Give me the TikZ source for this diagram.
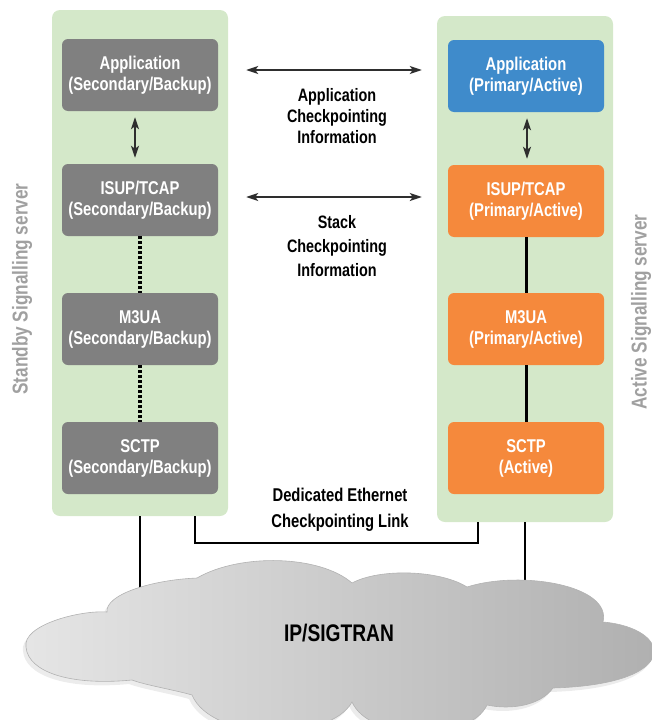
\documentclass[tikz,border=0pt]{standalone}
\usepackage{fontspec}
\setmainfont{Liberation Sans}[FakeStretch=0.8]
\usetikzlibrary{shadows,arrows.meta}
\definecolor{panelgreen}{HTML}{D4E8C9}
\definecolor{stackgray}{HTML}{808080}
\definecolor{appblue}{HTML}{3F8BCB}
\definecolor{stackorange}{HTML}{F5893C}
\definecolor{labelgray}{HTML}{A0A0A0}
\definecolor{arrowdark}{HTML}{2E2E2E}

\begin{document}
\begin{tikzpicture}[x=1pt,y=-1pt,
  panel/.style={fill=panelgreen, rounded corners=8pt, minimum width=176pt, minimum height=506pt, inner sep=0pt},
  layer/.style={rounded corners=6pt, minimum width=156pt, minimum height=72pt, text=white, align=center, inner sep=0pt, font=\bfseries\fontsize{18.5}{21}\selectfont},
  note/.style={align=center, font=\bfseries\fontsize{18}{21}\selectfont},
  side/.style={rotate=90, text=labelgray, font=\bfseries\fontsize{21.5}{24}\selectfont},
  sync/.style={{Stealth[length=12pt,width=8pt,inset=3pt]}-{Stealth[length=12pt,width=8pt,inset=3pt]}, line width=2pt, draw=arrowdark},
  wire/.style={line width=2.2pt}]
  \useasboundingbox (0,0) rectangle (652,720);
  \clip (0,0) rectangle (652,720);

  % server panels
  \node[panel] (standby) at (140,263) {};
  \node[panel] (active) at (525,269) {};
  \node[side] (standbylbl) at (22,289) {Standby Signalling server};
  \node[side] (activelbl) at (641,312) {Active Signalling server};

  % links to the network
  \coordinate (netc) at (339,633);
  \draw[wire] (standby.south) -- (standby.south |- netc);
  \draw[wire] (active.south) -- (active.south |- netc);
  \draw[line width=1.8pt] ([xshift=-33pt]standby.south east) -- ++(0,27)
    -| ([xshift=-135pt]active.south east);

  % cloud
  \path[draw=gray!60, line width=0.6pt, left color=gray!20, right color=gray!64,
    drop shadow={shadow xshift=-3pt, shadow yshift=-4pt, opacity=0.15}]
    (26,647) .. controls (22,625) and (80,610) .. (107,612)
    .. controls (105,595) and (150,580) .. (197,578)
    .. controls (240,553) and (320,555) .. (352,583)
    .. controls (380,568) and (440,570) .. (467,587)
    .. controls (520,570) and (612,585) .. (603,622)
    .. controls (672,628) and (685,684) .. (553,688)
    .. controls (540,706) and (510,710) .. (487,705)
    .. controls (470,742) and (370,742) .. (352,702)
    .. controls (330,742) and (212,742) .. (192,695)
    .. controls (175,690) and (145,685) .. (132,680)
    .. controls (70,686) and (28,672) .. (26,647) -- cycle;
  \node[font=\bfseries\fontsize{24}{28}\selectfont] (net) at (netc) {IP/SIGTRAN};

  % standby stack
  \node[layer, fill=stackgray] (sapp) at (140,75) {Application\\(Secondary/Backup)};
  \node[layer, fill=stackgray] (sisup) at (140,200) {ISUP/TCAP\\(Secondary/Backup)};
  \node[layer, fill=stackgray] (sm3ua) at (140,329) {M3UA\\(Secondary/Backup)};
  \node[layer, fill=stackgray] (ssctp) at (140,458) {SCTP\\(Secondary/Backup)};
  \draw[sync] ([xshift=-5pt,yshift=-6pt]sapp.south) -- ([xshift=-5pt,yshift=6pt]sisup.north);
  \draw[wire, line width=3.5pt, dash pattern=on 3pt off 2pt] (sisup) -- (sm3ua);
  \draw[wire, line width=3.5pt, dash pattern=on 3pt off 2pt] (sm3ua) -- (ssctp);

  % active stack
  \node[layer, fill=appblue] (aapp) at (526,76) {Application\\(Primary/Active)};
  \node[layer, fill=stackorange] (aisup) at (526,201) {ISUP/TCAP\\(Primary/Active)};
  \node[layer, fill=stackorange] (am3ua) at (526,329) {M3UA\\(Primary/Active)};
  \node[layer, fill=stackorange] (asctp) at (526,458) {SCTP\\(Active)};
  \draw[sync] ([xshift=1pt,yshift=-6pt]aapp.south) -- ([xshift=1pt,yshift=6pt]aisup.north);
  \draw[wire, line width=3pt] (aisup) -- (am3ua);
  \draw[wire, line width=3pt] (am3ua) -- (asctp);

  % checkpointing
  \draw[sync] ([xshift=28pt,yshift=5pt]sapp.east) -- ([xshift=-26pt,yshift=6pt]aapp.west);
  \draw[sync] ([xshift=28pt,yshift=3pt]sisup.east) -- ([xshift=-26pt,yshift=4pt]aisup.west);
  \node[note] (appinfo) at (337,116) {Application\\Checkpointing\\Information};
  \node[note, font=\bfseries\fontsize{18}{24}\selectfont] (stackinfo) at (337,246) {Stack\\Checkpointing\\Information};
  \node[note, font=\bfseries\fontsize{18.5}{26}\selectfont] (ethinfo) at (340,510) {Dedicated Ethernet\\Checkpointing Link};
\end{tikzpicture}
\end{document}
